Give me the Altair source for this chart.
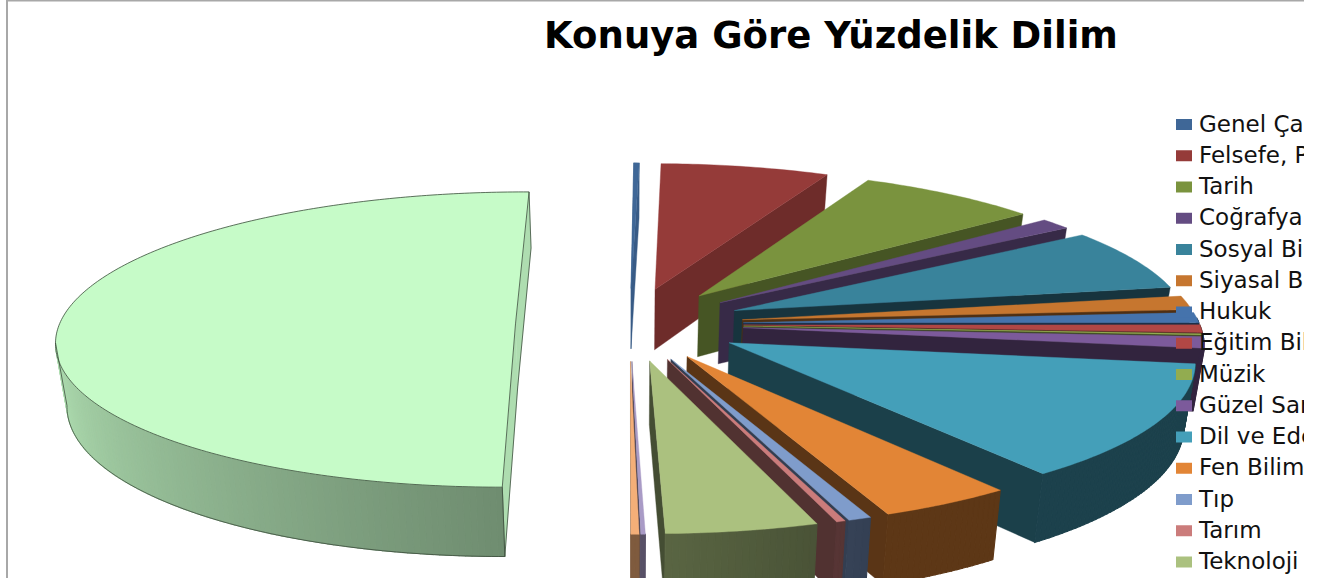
import math
import altair as alt

# Share of the collection by subject, in percent, clockwise from the top of the pie
subjects = ["Genel Çalışmalar", "Felsefe, Psikoloji", "Tarih", "Coğrafya", "Sosyal Bilimler",
            "Siyasal Bilimler", "Hukuk", "Eğitim Bilimleri", "Müzik", "Güzel Sanatlar",
            "Dil ve Edebiyat", "Fen Bilimleri", "Tıp", "Tarım", "Teknoloji",
            "Spor", "Din", "Diğer"]
shares = [0.22, 6.72, 7.25, 1.25, 6.80, 1.53, 1.11, 0.83, 0.14, 1.25,
          12.50, 4.17, 0.72, 0.28, 4.72, 0.14, 0.25, 50.11]
colors = ["#3F6797", "#953B39", "#7A933E", "#644C82", "#39839B", "#C6762F", "#4573AC", "#B14745",
          "#92AC50", "#7C5A9B", "#449FB9", "#E28536", "#7F9CCB", "#CB7C7B", "#ABC17F",
          "#A99BC6", "#F4AF78", "#C6FBC8"]
legend_count = 15
title_text = "Konuya Göre Yüzdelik Dilim"

# Projection of the exploded 3D pie
START = 0.4
CX, CY = 629.5, 324.0
RX, RY = 456.0, 146.0
PERSP = 0.106
EXPLODE = 0.25
DEPTH = 62.0
BASE_SHRINK = 0.98


def project(u, v, down=False):
    w = 1 + PERSP * v
    if down:
        return [CX + BASE_SHRINK * RX * u / w, CY - RY * v / w + DEPTH / w]
    return [CX + RX * u / w, CY - RY * v / w]


def shade(hex_color, factor):
    rgb = [int(hex_color[i:i + 2], 16) for i in (1, 3, 5)]
    return "#" + "".join(f"{max(0, min(255, round(c * factor))):02x}" for c in rgb)


def polygon(points, fill, seam=0.4):
    ring = [list(p) for p in points] + [list(points[0])]
    return {"type": "Feature", "geometry": {"type": "Polygon", "coordinates": [ring]},
            "properties": {"fill": fill, "seam": seam}}


def polyline(points):
    return {"type": "Feature", "geometry": {"type": "LineString", "coordinates": [list(p) for p in points]},
            "properties": {}}


def wall_factor(theta, big):
    if big:
        return 0.56 + 0.36 * min(1.0, max(0.0, (theta - 180) / 90))
    return min(0.52, 0.41 + 0.11 * max(0.0, theta - 158) / 20)


def face_factor(theta, big):
    return 0.88 if big else max(0.40, 0.74 - (theta - 25) * 0.0062)


features = []
outlines = []
angle = START
for name, share, color in zip(subjects, shares, colors):
    t0, t1 = angle, angle + share * 3.6
    angle = t1
    big = share > 40
    mid = math.radians((t0 + t1) / 2)
    au, av = EXPLODE * math.sin(mid), EXPLODE * math.cos(mid)
    steps = max(2, int((t1 - t0) / 0.75))
    thetas = [t0 + (t1 - t0) * i / steps for i in range(steps + 1)]
    rim = [(au + math.sin(math.radians(t)), av + math.cos(math.radians(t))) for t in thetas]
    apex_top, apex_low = project(au, av), project(au, av, True)
    # the rim point furthest left is where the wall of a large slice turns out of sight
    turn = min(range(len(thetas)), key=lambda i: project(*rim[i])[0])

    # radial faces that can face the viewer
    if math.sin(math.radians(t0)) < 0.01:
        features.append(polygon([apex_top, project(*rim[0]), project(*rim[0], True), apex_low],
                                shade(color, face_factor(t0, big))))
    if math.sin(math.radians(t1)) > -0.02:
        features.append(polygon([apex_top, project(*rim[-1]), project(*rim[-1], True), apex_low],
                                shade(color, face_factor(t1, big))))
    # outer wall, in narrow strips so that its shade can change along the rim
    for i in range(steps):
        middle = (thetas[i] + thetas[i + 1]) / 2
        front = i < turn if big else math.cos(math.radians(middle)) < 0.03
        if front:
            a, b = rim[i], rim[i + 1]
            features.append(polygon([project(*a), project(*b), project(*b, True), project(*a, True)],
                                    shade(color, wall_factor(middle, big)), seam=1.1))
    features.append(polygon([apex_top] + [project(*p) for p in rim], color))

    if big:
        top_ring = [apex_top] + [project(*p) for p in rim] + [apex_top]
        outlines.append(polyline(top_ring))
        low = [project(*p, True) for p in rim[:turn + 1]]
        outlines.append(polyline(low))
        outlines.append(polyline([project(*rim[0]), project(*rim[0], True)]))
        outlines.append(polyline([project(*rim[-1]), project(*rim[-1], True), apex_low,
                                  project(*rim[0], True)]))
        outlines.append(polyline([project(*rim[turn]), low[-1]]))

pixel_space = dict(type="identity", scale=1, translate=[0, 0])

faces = (
    alt.Chart(alt.Data(values=features))
    .mark_geoshape(clip=True)
    .encode(
        fill=alt.Fill(field="properties.fill", type="nominal", scale=None),
        stroke=alt.Stroke(field="properties.fill", type="nominal", scale=None),
        strokeWidth=alt.StrokeWidth(field="properties.seam", type="quantitative", scale=None),
    )
    .project(**pixel_space)
)

edges = (
    alt.Chart(alt.Data(values=outlines))
    .mark_geoshape(clip=True, filled=False, stroke="#3C4C3C", strokeWidth=0.8)
    .project(**pixel_space)
)

legend_rows = [{"name": n, "color": c} for n, c in zip(subjects[:legend_count], colors[:legend_count])]
legend_y = alt.Y("name:N", sort=None, axis=None,
                 scale=alt.Scale(type="point", padding=0, domain=subjects[:legend_count], range=[124.5, 562]))

swatches = (
    alt.Chart(alt.Data(values=legend_rows))
    .mark_rect(width=16, height=11)
    .encode(x=alt.value(1184), y=legend_y, color=alt.Color("color:N", scale=None))
)
labels = (
    alt.Chart(alt.Data(values=legend_rows))
    .mark_text(align="left", baseline="middle", font="DejaVu Sans", fontSize=23, color="#111111", clip=True)
    .encode(x=alt.value(1199), y=legend_y, text="name:N")
)
title = (
    alt.Chart(alt.Data(values=[{"t": title_text}]))
    .mark_text(align="center", baseline="middle", font="DejaVu Sans", fontWeight="bold", fontSize=37, color="#000000")
    .encode(x=alt.value(831), y=alt.value(37), text="t:N")
)
frame_left = alt.Chart(alt.Data(values=[{"k": 0}])).mark_rule(color="#A8A8A8", strokeWidth=2).encode(
    x=alt.value(7), y=alt.value(0), y2=alt.value(578))
frame_top = alt.Chart(alt.Data(values=[{"k": 0}])).mark_rule(color="#A8A8A8", strokeWidth=2).encode(
    x=alt.value(7), x2=alt.value(1304), y=alt.value(0.5))

chart = alt.layer(frame_left, frame_top, faces, edges, swatches, labels, title).properties(
    width=1304, height=578, padding=0, autosize=alt.AutoSizeParams(type="none"),
    background="white",
).configure_view(stroke=None)

chart.save("out.html", embed_options={"renderer": "svg", "actions": False})
